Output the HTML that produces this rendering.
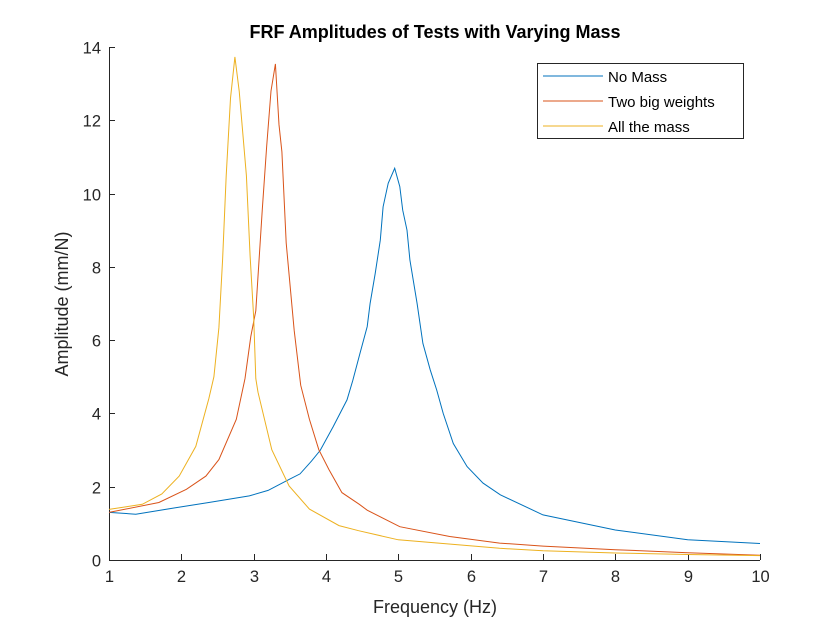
<!DOCTYPE html>
<html><head><meta charset="utf-8"><style>
body{margin:0;background:#fff}
svg{display:block;font-family:"Liberation Sans",Arial,sans-serif}
</style></head><body>
<svg id="chart" width="840" height="630">
<rect width="840" height="630" fill="#fff"/>
<text x="435" y="38" text-anchor="middle" font-size="18" font-weight="bold" fill="#000">FRF Amplitudes of Tests with Varying Mass</text>
<g id="axes"></g>
<g id="series"></g>
<text x="435" y="613" text-anchor="middle" font-size="18" fill="#262626">Frequency (Hz)</text>
<text transform="translate(68,304) rotate(-90)" text-anchor="middle" font-size="18" fill="#262626">Amplitude (mm/N)</text>
<g>
<rect x="537.5" y="63.5" width="206" height="75" fill="#fff" stroke="#262626" stroke-width="1"/>
<g><line x1="543" x2="603" y1="76" y2="76" stroke="#0072BD"/><text x="608" y="82" font-size="15" fill="#000">No Mass</text></g>
<g><line x1="543" x2="603" y1="101" y2="101" stroke="#D95319"/><text x="608" y="107" font-size="15" fill="#000">Two big weights</text></g>
<g><line x1="543" x2="603" y1="126" y2="126" stroke="#EDB120"/><text x="608" y="132" font-size="15" fill="#000">All the mass</text></g>
</g>
</svg>
<script>
const xTicks = [1,2,3,4,5,6,7,8,9,10];
const yTicks = [0,2,4,6,8,10,12,14];
const noMassX = [1.0,1.37,1.93,2.38,2.94,3.2,3.49,3.64,3.8,3.92,4.1,4.29,4.37,4.47,4.57,4.61,4.68,4.75,4.79,4.86,4.95,5.02,5.06,5.12,5.16,5.26,5.34,5.44,5.53,5.62,5.76,5.95,6.17,6.41,7,8,9,10];
const noMassY = [1.3,1.25,1.43,1.57,1.75,1.9,2.2,2.35,2.7,2.99,3.64,4.37,4.9,5.64,6.37,7.0,7.82,8.73,9.64,10.28,10.69,10.19,9.55,9.0,8.19,7.0,5.91,5.19,4.64,4.0,3.18,2.55,2.1,1.78,1.23,0.82,0.55,0.45];
const twoWeightsX = [1.0,1.69,2.07,2.34,2.52,2.76,2.88,2.96,3.03,3.12,3.18,3.24,3.3,3.35,3.39,3.45,3.56,3.65,3.77,3.9,4.04,4.22,4.46,4.57,5.02,5.71,6.4,7,8,9,10];
const twoWeightsY = [1.3,1.57,1.93,2.29,2.74,3.84,4.95,6.1,6.8,9.57,11.3,12.8,13.54,11.88,11.14,8.65,6.26,4.77,3.84,3.01,2.47,1.84,1.52,1.36,0.91,0.64,0.46,0.38,0.28,0.2,0.13];
const allMassX = [1.0,1.46,1.73,1.97,2.2,2.38,2.45,2.52,2.57,2.62,2.68,2.74,2.8,2.9,2.95,3.0,3.03,3.06,3.25,3.49,3.77,4.18,4.45,5.0,6.4,7,8,9,10];
const allMassY = [1.38,1.52,1.8,2.29,3.1,4.4,5.0,6.34,8.2,10.49,12.6,13.73,12.8,10.49,8.3,6.61,4.95,4.58,3.01,2.02,1.39,0.94,0.8,0.55,0.32,0.25,0.19,0.15,0.12];

const X0=109,X1=760,Y0=560,Y1=47;
const sx = v => X0 + (v-1)/9*(X1-X0);
const sy = v => Y0 - v/14*(Y0-Y1);
const NS='http://www.w3.org/2000/svg';
const axes=document.getElementById('axes');
const series=document.getElementById('series');
function mk(tag,attrs,parent){const e=document.createElementNS(NS,tag);for(const k in attrs)e.setAttribute(k,attrs[k]);parent.appendChild(e);return e;}

const xa=mk('line',{x1:X0,x2:X1,y1:Y0+0.5,y2:Y0+0.5,stroke:'#262626'},axes);


const ya=mk('line',{x1:X0+0.5,x2:X0+0.5,y1:Y1,y2:Y0,stroke:'#262626'},axes);


xTicks.forEach(t=>{
  const x=Math.round(sx(t))+0.5;
  mk('line',{x1:x,x2:x,y1:Y0,y2:Y0-6,stroke:'#262626'},axes);
  const l=mk('text',{x:x,y:Y0+22,'text-anchor':'middle','font-size':16.5,fill:'#262626'},axes);
  l.textContent=t;
  
  
});
yTicks.forEach(t=>{
  const y=Math.round(sy(t))+0.5;
  mk('line',{x1:X0,x2:X0+6,y1:y,y2:y,stroke:'#262626'},axes);
  const l=mk('text',{x:X0-8,y:y+6,'text-anchor':'end','font-size':16.5,fill:'#262626'},axes);
  l.textContent=t;
  
  
});
function drawLine(xs,ys,color,name){
  const d=xs.map((x,i)=>(i?'L':'M')+sx(x).toFixed(1)+','+sy(ys[i]).toFixed(1)).join('');
  const p=mk('path',{d:d,fill:'none',stroke:color,'stroke-width':1},series);
  
  
}
drawLine(noMassX,noMassY,'#0072BD','line-no-mass');
drawLine(twoWeightsX,twoWeightsY,'#D95319','line-two-big-weights');
drawLine(allMassX,allMassY,'#EDB120','line-all-the-mass');
</script>
</body></html>
